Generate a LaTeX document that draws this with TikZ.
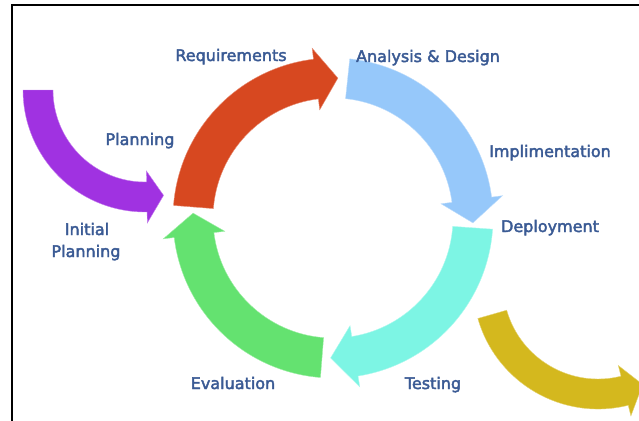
\documentclass[tikz,border=0pt]{standalone}
\usepackage{fontspec}
\newfontfamily\lblfont[FakeBold=2.5]{DejaVu Sans}
\definecolor{lbltxt}{RGB}{58,90,148}
\definecolor{planpurple}{RGB}{160,50,225}
\definecolor{reqred}{RGB}{215,72,32}
\definecolor{anablue}{RGB}{150,200,250}
\definecolor{depcyan}{RGB}{125,245,228}
\definecolor{evalgreen}{RGB}{100,226,112}
\definecolor{outyellow}{RGB}{212,184,30}
\tikzset{lbl/.style={text=lbltxt, font=\lblfont\fontsize{16}{19}\selectfont, anchor=base, inner sep=0pt}}
% centre x, centre y, radius, half width, tail angle, head angle, tip angle, head half width, style
\newcommand{\bentarrow}[9]{%
  \begin{scope}[shift={(#1,#2)}]
    \path[#9] (#5:{#3+#4}) arc[start angle=#5, end angle=#6, radius={#3+#4}]
      -- (#6:{#3+#8}) -- (#7:#3) -- (#6:{#3-#8})
      -- (#6:{#3-#4}) arc[start angle=#6, end angle=#5, radius={#3-#4}] -- cycle;
  \end{scope}}

\begin{document}
\begin{tikzpicture}[x=1pt,y=1pt]
		\useasboundingbox (0,0) rectangle (639,-420);
		\clip (0,0) rectangle (639,-420);
		\draw[line width=2] (12,-421) -- (12,-5) -- (640,-5);
		\bentarrow{145}{-90}{107}{15}{180}{271}{280}{26}{fill=planpurple, draw=planpurple!60!white}
		\bentarrow{598}{-284}{110}{15}{196}{284}{294}{26}{fill=outyellow, draw=outyellow!60!white}
		\bentarrow{333}{-218}{140}{20}{175.5}{97}{88}{31}{fill=reqred, draw=reqred!60!white}
		\bentarrow{333}{-218}{140}{20}{84}{7.5}{-2}{31}{fill=anablue, draw=anablue!60!white}
		\bentarrow{333}{-218}{140}{20}{-4}{-81}{-91}{31}{fill=depcyan, draw=depcyan!60!white}
		\bentarrow{333}{-218}{140}{20}{-94.5}{-173}{-182}{31}{fill=evalgreen, draw=evalgreen!60!white}
		\node[lbl] (req) at (231,-61) {Requirements};
		\node[lbl] (ana) at (428,-62) {Analysis \& Design};
		\node[lbl] (plan) at (140,-145) {Planning};
		\node[lbl] (impl) at (550,-157) {Implimentation};
		\node[lbl] (dep) at (550,-232) {Deployment};
		\node[lbl] (init) at (87,-235) {Initial};
		\node[lbl] (initplan) at (86,-257) {Planning};
		\node[lbl] (eval) at (233,-389) {Evaluation};
		\node[lbl] (test) at (433,-389) {Testing};
\end{tikzpicture}
\end{document}
